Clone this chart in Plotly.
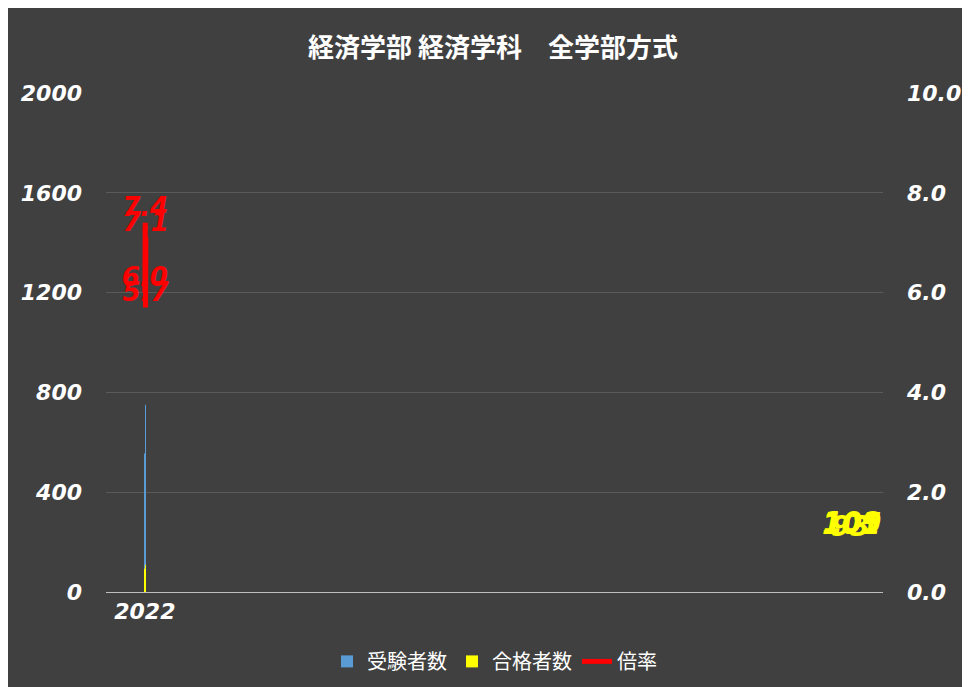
import plotly.graph_objects as go

years = ["2022", "2023", "2024", "2025"]
applicants = [555, 751, 626, 747]
passers = [93, 101, 109, 105]
ratio = [6.0, 7.4, 5.7, 7.1]

font = "DejaVu Sans"
bg = "#404040"

fig = go.Figure()
fig.add_trace(go.Bar(x=years, y=applicants, name="受験者数", width=0.5,
                     marker=dict(color="#5b9bd5", line=dict(width=0)),
                     text=applicants, textposition="outside", cliponaxis=False,
                     textfont=dict(color="#5b9bd5", size=28, family=font, style="italic", weight="bold")))
fig.add_trace(go.Bar(x=years, y=passers, name="合格者数", width=0.5,
                     marker=dict(color="#ffff00", line=dict(width=0))))
fig.add_trace(go.Scatter(x=years, y=ratio, name="倍率", yaxis="y2", mode="lines+text",
                         line=dict(color="#ff0000", width=5),
                         text=[f"{v:.1f}" for v in ratio], textposition="top center",
                         textfont=dict(color="#ff0000", size=26, family=font, style="italic", weight="bold")))

for yr, p in zip(years, passers):
    fig.add_annotation(x=yr, y=p, yshift=42, text=str(p), showarrow=False,
                       font=dict(color="#ffff00", size=28, family=font, style="italic", weight="bold"))

tickfont = dict(size=22, color="white", family=font, style="italic", weight="bold")
fig.update_layout(
    width=970, height=687, paper_bgcolor=bg, plot_bgcolor=bg,
    barmode="overlay",
    margin=dict(l=98, r=95, t=85, b=103),
    title=dict(text="<b>経済学部 経済学科　全学部方式</b>", x=0.5, y=0.955,
               font=dict(color="white", size=26, family="Noto Sans CJK JP")),
    font=dict(family=font, color="white"),
    xaxis=dict(type="category", tickfont=tickfont, showline=True, linecolor="#bfbfbf", linewidth=1),
    yaxis=dict(range=[0, 2000], dtick=400, gridcolor="#5a5a5a", zeroline=False,
               tickfont=tickfont, ticksuffix="   "),
    yaxis2=dict(range=[0, 10], dtick=2, overlaying="y", side="right", showgrid=False,
                tickformat=".1f", tickfont=tickfont, tickprefix="   "),
    legend=dict(orientation="h", x=0.5, xanchor="center", y=-0.1, yanchor="top",
                font=dict(size=20, color="white", family="Noto Sans CJK JP")),
)
fig.write_html("out.html")
